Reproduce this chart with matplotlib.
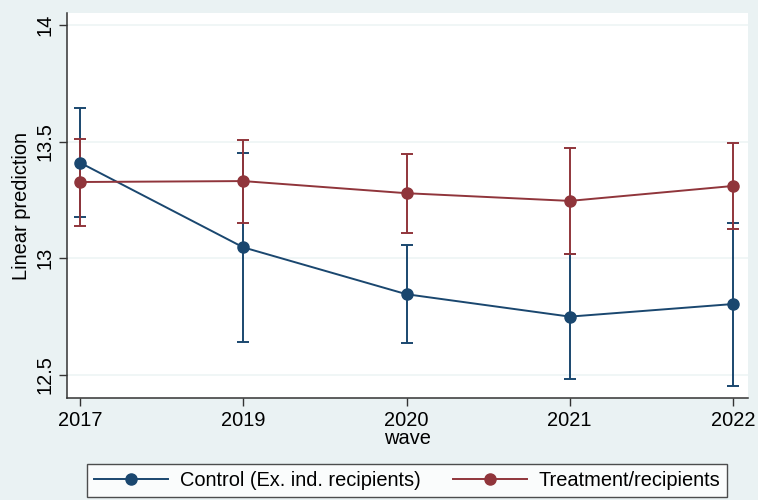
import matplotlib
matplotlib.use("Agg")
import matplotlib.pyplot as plt
from matplotlib.lines import Line2D

plt.rcParams['font.family'] = ['Liberation Sans', 'DejaVu Sans']

waves = ["2017", "2019", "2020", "2021", "2022"]
control = [13.41, 13.047, 12.846, 12.75, 12.804]
control_lo = [13.176, 12.643, 12.636, 12.481, 12.453]
control_hi = [13.643, 13.45, 13.057, 13.02, 13.153]
treat = [13.327, 13.331, 13.279, 13.246, 13.31]
treat_lo = [13.14, 13.15, 13.11, 13.017, 13.127]
treat_hi = [13.513, 13.507, 13.446, 13.474, 13.493]
yticks = [12.5, 13, 13.5, 14]

navy = "#1a476f"
maroon = "#90353b"
bg = "#eaf2f3"
fs = 14.4

fig = plt.figure(figsize=(7.58, 5.0), dpi=100, facecolor=bg)
ax = fig.add_axes([67/758, 1-398/500, (748-67)/758, (398-13)/500])
ax.set_facecolor("white")

x = list(range(len(waves)))
for vals, lo, hi, col in [(control, control_lo, control_hi, navy), (treat, treat_lo, treat_hi, maroon)]:
    yerr = [[v - l for v, l in zip(vals, lo)], [h - v for v, h in zip(vals, hi)]]
    ax.errorbar(x, vals, yerr=yerr, color=col, lw=1.4, marker='o', ms=8,
                capsize=4, capthick=1.4, elinewidth=1.4, zorder=3)

ax.set_xlim(-13/163.25, 4 + 15/163.25)
ax.set_ylim(14 - (398-25)/233.3, 14 + 12/233.3)
ax.set_yticks(yticks)
ax.set_yticklabels(["12.5", "13", "13.5", "14"], rotation=90, va='center', fontsize=fs)
ax.set_xticks(x)
ax.set_xticklabels(waves, fontsize=fs)
for yv in yticks:
    ax.axhline(yv, color="#eef5f5", lw=1.2, zorder=1)
ax.tick_params(axis='both', length=6, width=1, color='#333333', pad=3)
for s in ['top', 'right']:
    ax.spines[s].set_visible(False)
for s in ['left', 'bottom']:
    ax.spines[s].set_color('#333333')
    ax.spines[s].set_linewidth(1.1)

ax.set_xlabel("wave", fontsize=fs, labelpad=0)
ax.set_ylabel("Linear prediction", fontsize=fs, labelpad=3)

handles = [Line2D([], [], color=navy, marker='o', ms=8, lw=1.4),
           Line2D([], [], color=maroon, marker='o', ms=8, lw=1.4)]
leg = fig.legend(handles, ["Control (Ex. ind. recipients)", "Treatment/recipients"],
                 loc='center', bbox_to_anchor=(407/758, 1-480/500), ncol=2,
                 fontsize=fs, frameon=True, fancybox=False, handlelength=3.7,
                 handletextpad=0.6, columnspacing=1.6, borderpad=0.35)
leg.get_frame().set_edgecolor('#222222')
leg.get_frame().set_linewidth(1.0)
leg.get_frame().set_facecolor('white')

fig.savefig("out.png", dpi=100, facecolor=bg)
